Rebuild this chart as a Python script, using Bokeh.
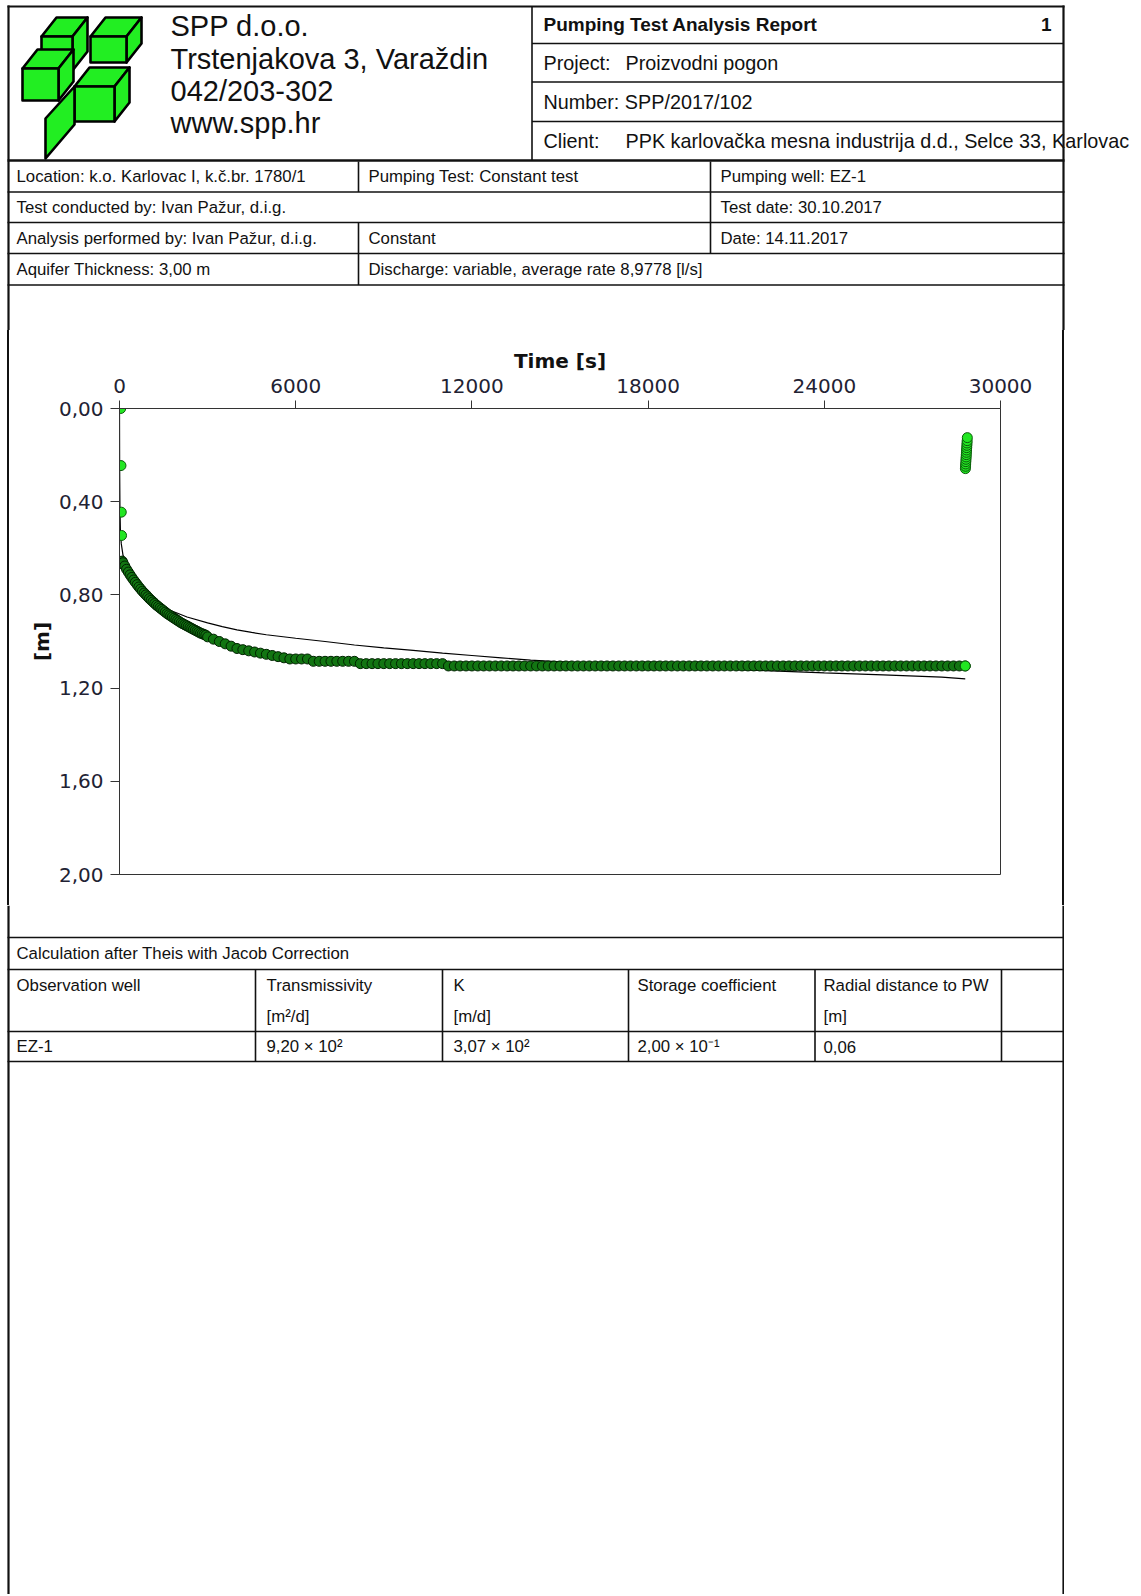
from bokeh.plotting import figure
from bokeh.models import Range1d, FixedTicker, CustomJSTickFormatter, Div, Spacer
from bokeh.layouts import column, row
from bokeh.embed import file_html
from bokeh.resources import INLINE
from bokeh.core.properties import value

# ---------------- chart data ----------------
time_ticks = [0, 6000, 12000, 18000, 24000, 30000]
depth_ticks = [0.0, 0.4, 0.8, 1.2, 1.6, 2.0]

# first isolated readings
early_t = [40, 50, 60, 70]
early_s = [0.000, 0.245, 0.445, 0.545]

# pumping phase readings
pump_t = [90, 120, 180, 240, 300, 360, 420, 480, 540, 600,
          660, 720, 780, 840, 900, 960, 1020, 1080, 1140, 1200,
          1260, 1320, 1380, 1440, 1500, 1560, 1620, 1680, 1740, 1800,
          1860, 1920, 1980, 2040, 2100, 2160, 2220, 2280, 2340, 2400,
          2460, 2520, 2580, 2640, 2700, 2760, 2820, 2880, 2940,
          3000, 3200, 3400, 3600, 3800, 4000, 4200, 4400, 4600, 4800,
          5000, 5200, 5400, 5600, 5800, 6000, 6200, 6400, 6600, 6800,
          7000, 7200, 7400, 7600, 7800, 8000, 8200, 8400, 8600, 8800,
          9000, 9200, 9400, 9600, 9800, 10000, 10200, 10400, 10600, 10800,
          11000, 11200, 11400, 11600, 11800, 12000, 12200, 12400, 12600, 12800,
          13000, 13200, 13400, 13600, 13800, 14000, 14200, 14400, 14600, 14800,
          15000, 15200, 15400, 15600, 15800, 16000, 16200, 16400, 16600, 16800,
          17000, 17200, 17400, 17600, 17800, 18000, 18200, 18400, 18600, 18800,
          19000, 19200, 19400, 19600, 19800, 20000, 20200, 20400, 20600, 20800,
          21000, 21200, 21400, 21600, 21800, 22000, 22200, 22400, 22600, 22800,
          23000, 23200, 23400, 23600, 23800, 24000, 24200, 24400, 24600, 24800,
          25000, 25200, 25400, 25600, 25800, 26000, 26200, 26400, 26600, 26800,
          27000, 27200, 27400, 27600, 27800, 28000, 28200, 28400, 28600, 28800]
pump_s = [0.655, 0.662, 0.676, 0.690, 0.702, 0.714, 0.725, 0.736, 0.746, 0.756,
          0.766, 0.775, 0.784, 0.792, 0.800, 0.808, 0.816, 0.823, 0.830, 0.837,
          0.844, 0.850, 0.856, 0.862, 0.868, 0.874, 0.880, 0.885, 0.890, 0.895,
          0.900, 0.905, 0.910, 0.915, 0.920, 0.924, 0.928, 0.932, 0.936, 0.940,
          0.944, 0.948, 0.952, 0.956, 0.960, 0.964, 0.967, 0.970, 0.973,
          0.980, 0.990, 1.000, 1.010, 1.020, 1.030, 1.035, 1.040, 1.045, 1.050,
          1.055, 1.060, 1.065, 1.070, 1.075, 1.075, 1.075, 1.075, 1.085, 1.085,
          1.085, 1.085, 1.085, 1.085, 1.085, 1.085, 1.095, 1.095, 1.095, 1.095,
          1.095, 1.095, 1.095, 1.095, 1.095, 1.095, 1.095, 1.095, 1.095, 1.095,
          1.095, 1.105, 1.105, 1.105, 1.105, 1.105, 1.105, 1.105, 1.105, 1.105,
          1.105, 1.105, 1.105, 1.105, 1.105, 1.105, 1.105, 1.105, 1.105, 1.105,
          1.105, 1.105, 1.105, 1.105, 1.105, 1.105, 1.105, 1.105, 1.105, 1.105,
          1.105, 1.105, 1.105, 1.105, 1.105, 1.105, 1.105, 1.105, 1.105, 1.105,
          1.105, 1.105, 1.105, 1.105, 1.105, 1.105, 1.105, 1.105, 1.105, 1.105,
          1.105, 1.105, 1.105, 1.105, 1.105, 1.105, 1.105, 1.105, 1.105, 1.105,
          1.105, 1.105, 1.105, 1.105, 1.105, 1.105, 1.105, 1.105, 1.105, 1.105,
          1.105, 1.105, 1.105, 1.105, 1.105, 1.105, 1.105, 1.105, 1.105, 1.105,
          1.105, 1.105, 1.105, 1.105, 1.105, 1.105, 1.105, 1.105, 1.105, 1.105]

# recovery readings
rec_t = [28805, 28810, 28815, 28820, 28825, 28830, 28835,
         28840, 28845, 28850, 28855, 28860, 28865, 28870]
rec_s = [0.258, 0.248, 0.238, 0.228, 0.218, 0.208, 0.198,
         0.188, 0.178, 0.168, 0.158, 0.148, 0.138, 0.125]

# Theis / Jacob fitted curve
fit_t = [0, 5, 15, 30, 60, 120, 250, 500, 800, 1200, 1700, 2300, 3000, 3500, 4000,
         4500, 5000, 6000, 7000, 8000, 9000, 10000, 11000, 12000, 13000, 14000,
         16000, 18000, 20000, 22000, 24000, 26000, 28000, 28800]
fit_s = [0.0, 0.25, 0.42, 0.52, 0.58, 0.63, 0.68, 0.74, 0.785, 0.825, 0.865,
         0.895, 0.92, 0.936, 0.95, 0.961, 0.971, 0.986, 1.0, 1.015, 1.027, 1.038,
         1.05, 1.06, 1.07, 1.08, 1.095, 1.105, 1.115, 1.125, 1.135, 1.143, 1.153, 1.16]

# ---------------- report texts ----------------
company_lines = ["SPP d.o.o.", "Trstenjakova 3, Varaždin", "042/203-302", "www.spp.hr"]
report_title = "Pumping Test Analysis Report"
page_number = "1"
right_labels = ["Project:", "Number: SPP/2017/102", "Client:"]
right_values = ["Proizvodni pogon", "", "PPK karlovačka mesna industrija d.d., Selce 33, Karlovac"]
info_texts = ["Location: k.o. Karlovac I, k.č.br. 1780/1", "Pumping Test: Constant test",
              "Pumping well: EZ-1", "Test conducted by: Ivan Pažur, d.i.g.", "Test date: 30.10.2017",
              "Analysis performed by: Ivan Pažur, d.i.g.", "Constant", "Date: 14.11.2017",
              "Aquifer Thickness: 3,00 m", "Discharge: variable, average rate 8,9778 [l/s]"]
info_cols = [0, 1, 2, 0, 2, 0, 1, 2, 0, 1]
info_rows = [0, 0, 0, 1, 1, 2, 2, 2, 3, 3]
calc_title = "Calculation after Theis with Jacob Correction"
table_head1 = ["Observation well", "Transmissivity", "K", "Storage coefficient", "Radial distance to PW"]
table_head2 = ["", "[m²/d]", "[m/d]", "", "[m]"]
table_row = ["EZ-1", "9,20 × 10²", "3,07 × 10²", "2,00 × 10⁻¹", "0,06"]

# ---------------- layout constants (page pixels) ----------------
H_A, H_B, H_C = 330, 575, 689
XL, XR = 8, 1063
INK = "#111111"
ARIAL = value("Liberation Sans")
SMALL = "16.8px"


def sheet(width, height, x0, y0):
    return figure(width=width, height=height, x_range=Range1d(x0, x0 + width),
                  y_range=Range1d(y0 + height, y0), output_backend="svg",
                  toolbar_location=None, tools="", x_axis_type=None, y_axis_type=None,
                  min_border=0, outline_line_color=None)


# ---------------- header sheet ----------------
head = sheet(1141, H_A, 0, 0)
# page border
head.segment(x0=[XL, XR, 7], y0=[5, 5, 6], x1=[XL, XR, 1064], y1=[H_A, H_A, 6],
             line_color=INK, line_width=2.2)
# header grid
head.segment(x0=[7, 531.5, 531.5, 531.5, 531.5], y0=[160, 6, 43, 81.5, 121],
             x1=[1064, 531.5, XR, XR, XR], y1=[160, 160, 43, 81.5, 121],
             line_color=INK, line_width=[2.6, 1.6, 1.6, 1.6, 1.6])
# info rows grid
head.segment(x0=[7, 7, 7, 7, 358, 710, 710, 358, 710, 358],
             y0=[191.5, 222, 253, 284.5, 161, 161, 191.5, 222, 222, 253],
             x1=[1064, 1064, 1064, 1064, 358, 710, 710, 358, 710, 358],
             y1=[191.5, 222, 253, 284.5, 191.5, 191.5, 222, 253, 253, 284.5],
             line_color=INK, line_width=1.6)


# logo (decorative boxes)
def box(xl, xr, yt, yb, dx=15, dy=19):
    top = ([xl, xl + dx, xr + dx, xr], [yt, yt - dy, yt - dy, yt])
    side = ([xr, xr + dx, xr + dx, xr], [yt, yt - dy, yb - dy, yb])
    front = ([xl, xr, xr, xl], [yt, yt, yb, yb])
    return [top, side, front]


logo = box(90, 126, 36, 62) + box(41, 72, 36, 70) + box(74, 114, 86, 121) + box(22, 58, 68, 100)
logo.append(([45, 74, 74, 45], [158, 124, 86, 118]))
head.patches(xs=[p[0] for p in logo], ys=[p[1] for p in logo], fill_color="#22ee22",
             line_color="black", line_width=2.6, line_join="round")

head.text(x=[170] * 4, y=[25.5, 58, 90, 122], text=company_lines, text_font=ARIAL,
          text_font_size="29px", text_color=INK, text_baseline="middle")
head.text(x=[543], y=[24], text=[report_title], text_font=ARIAL, text_font_size="19px",
          text_font_style="bold", text_color=INK, text_baseline="middle")
head.text(x=[1051], y=[24], text=[page_number], text_font=ARIAL, text_font_size="19px",
          text_font_style="bold", text_color=INK, text_baseline="middle", text_align="right")
head.text(x=[543] * 3, y=[62.5, 101, 140.5], text=right_labels, text_font=ARIAL,
          text_font_size="19.8px", text_color=INK, text_baseline="middle")
head.text(x=[625] * 3, y=[62.5, 101, 140.5], text=right_values, text_font=ARIAL,
          text_font_size="19.8px", text_color=INK, text_baseline="middle")
col_x = [16, 368, 720]
row_y = [176, 207, 238, 269]
head.text(x=[col_x[c] for c in info_cols], y=[row_y[r] for r in info_rows], text=info_texts,
          text_font=ARIAL, text_font_size=SMALL, text_color=INK, text_baseline="middle")

# ---------------- chart ----------------
p = figure(width=1053, height=H_B, x_range=Range1d(0, 30000), y_range=Range1d(2.0, 0.0),
           x_axis_location="above", output_backend="svg", toolbar_location=None, tools="",
           min_border_left=110, min_border_right=62, min_border_top=78, min_border_bottom=31,
           x_axis_label="Time [s]", y_axis_label="[m]")
p.grid.visible = False
p.outline_line_color = "#333333"
p.outline_line_width = 1
p.xaxis.ticker = FixedTicker(ticks=time_ticks)
p.yaxis.ticker = FixedTicker(ticks=depth_ticks)
p.yaxis.formatter = CustomJSTickFormatter(code="return tick.toFixed(2).replace('.', ',');")
for ax, tick_len, lab_off, ax_off in ((p.xaxis, 8, 8, 3), (p.yaxis, 9, 7, 2)):
    ax.major_tick_in = 0
    ax.major_tick_out = tick_len
    ax.minor_tick_out = 0
    ax.minor_tick_in = 0
    ax.axis_line_color = "#333333"
    ax.major_tick_line_color = "#333333"
    ax.major_label_text_font = "DejaVu Sans"
    ax.major_label_text_font_size = "20px"
    ax.major_label_text_color = "#222233"
    ax.major_label_standoff = lab_off
    ax.axis_label_text_font = "DejaVu Sans"
    ax.axis_label_text_font_style = "bold"
    ax.axis_label_text_font_size = "20px"
    ax.axis_label_text_color = INK
    ax.axis_label_standoff = ax_off

p.line(fit_t, fit_s, line_color="black", line_width=1.2)
p.scatter(pump_t, pump_s, size=10, fill_color="#127512", line_color="#002200", line_width=1)
bright = dict(size=10, fill_color="#22e622", line_color="#0a5a0a", line_width=1)
p.scatter(early_t, early_s, **bright)
p.scatter(pump_t[-1:], pump_s[-1:], **bright)
p.scatter(rec_t, rec_s, **bright)

bar_style = {"background-color": INK}
gap = Spacer(width=7, height=H_B, margin=0)
left_bar = Div(text="", width=2, height=H_B, margin=0, styles=bar_style)
right_bar = Div(text="", width=2, height=H_B, margin=0, styles=bar_style)
mid = row(gap, left_bar, p, right_bar, spacing=0, margin=0)

# ---------------- bottom sheet ----------------
y_c = H_A + H_B
foot = sheet(1064, H_C, 0, y_c)
foot.segment(x0=[XL, XR], y0=[y_c, y_c], x1=[XL, XR], y1=[y_c + H_C, y_c + H_C],
             line_color=INK, line_width=2.2)
foot.segment(x0=[7, 7, 7, 7], y0=[937, 969, 1031, 1061], x1=[1064] * 4, y1=[937, 969, 1031, 1061],
             line_color=INK, line_width=1.6)
vx = [255, 442, 628, 814.5, 1001]
foot.segment(x0=vx, y0=[969] * 5, x1=vx, y1=[1061] * 5, line_color=INK, line_width=1.6)
tx = [16, 266, 453, 637, 823]
foot.text(x=[16], y=[953], text=[calc_title], text_font=ARIAL, text_font_size=SMALL,
          text_color=INK, text_baseline="middle")
foot.text(x=tx, y=[985] * 5, text=table_head1, text_font=ARIAL, text_font_size=SMALL,
          text_color=INK, text_baseline="middle")
foot.text(x=tx, y=[1016] * 5, text=table_head2, text_font=ARIAL, text_font_size=SMALL,
          text_color=INK, text_baseline="middle")
foot.text(x=tx, y=[1046] * 5, text=table_row, text_font=ARIAL, text_font_size=SMALL,
          text_color=INK, text_baseline="middle")

root = column(head, mid, foot, spacing=0, margin=0)
open("out.html", "w").write(file_html(root, INLINE))
